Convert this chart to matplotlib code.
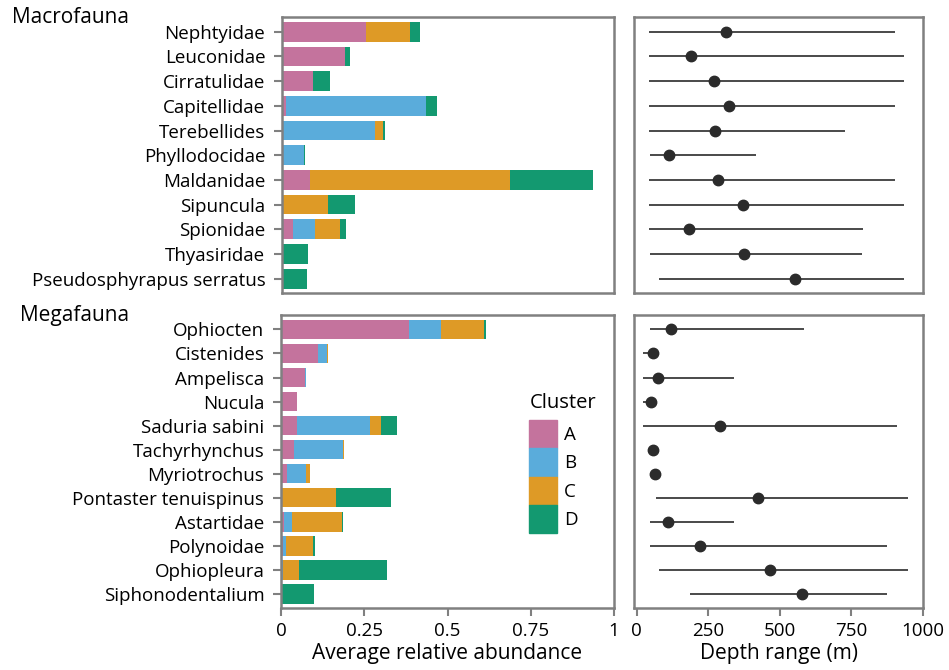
import matplotlib
matplotlib.use("Agg")
import matplotlib.pyplot as plt
import matplotlib.patches as mpatches
import numpy as np

plt.rcParams["font.family"] = ["Open Sans", "DejaVu Sans"]

CLUSTERS = ["A", "B", "C", "D"]
CLUSTER_COLORS = ["#C4739D", "#5AACDB", "#DE9A26", "#139970"]

# Macrofauna taxa (top to bottom) with per-cluster shares
macro_taxa = ["Nephtyidae", "Leuconidae", "Cirratulidae", "Capitellidae", "Terebellides",
              "Phyllodocidae", "Maldanidae", "Sipuncula", "Spionidae", "Thyasiridae",
              "Pseudosphyrapus serratus"]
macro_A = [0.253, 0.189, 0.093, 0.012, 0.000, 0.000, 0.084, 0.000, 0.033, 0.000, 0.000]
macro_B = [0.000, 0.000, 0.000, 0.421, 0.280, 0.066, 0.000, 0.000, 0.066, 0.000, 0.000]
macro_C = [0.132, 0.000, 0.000, 0.000, 0.024, 0.000, 0.602, 0.138, 0.076, 0.000, 0.000]
macro_D = [0.030, 0.016, 0.051, 0.033, 0.006, 0.003, 0.250, 0.082, 0.018, 0.078, 0.075]
macro_depth_min = [44, 44, 44, 44, 44, 47, 44, 44, 44, 47, 76]
macro_depth_max = [903, 934, 934, 903, 726, 416, 903, 934, 789, 788, 934]
macro_depth_mid = [311, 188, 270, 323, 274, 114, 284, 372, 181, 375, 554]

# Megafauna taxa
mega_taxa = ["Ophiocten", "Cistenides", "Ampelisca", "Nucula", "Saduria sabini",
             "Tachyrhynchus", "Myriotrochus", "Pontaster tenuispinus", "Astartidae",
             "Polynoidae", "Ophiopleura", "Siphonodentalium"]
mega_A = [0.383, 0.110, 0.071, 0.049, 0.047, 0.040, 0.017, 0.000, 0.009, 0.005, 0.000, 0.000]
mega_B = [0.097, 0.028, 0.005, 0.000, 0.220, 0.145, 0.058, 0.003, 0.024, 0.010, 0.005, 0.000]
mega_C = [0.129, 0.003, 0.000, 0.000, 0.033, 0.003, 0.011, 0.161, 0.149, 0.080, 0.048, 0.003]
mega_D = [0.006, 0.000, 0.000, 0.000, 0.048, 0.000, 0.000, 0.166, 0.003, 0.006, 0.265, 0.095]
mega_depth_min = [45, 22, 22, 22, 22, 45, 50, 68, 45, 45, 76, 185]
mega_depth_max = [584, 55, 338, 60, 908, 70, 78, 946, 338, 875, 946, 875]
mega_depth_mid = [119, 55, 73, 49, 289, 57, 62, 425, 108, 221, 466, 576]

SPINE = "#808080"
W, H = 949, 670
TICK_FS = 13.5


def px_axes(fig, x0, y0, x1, y1):
    return fig.add_axes([x0 / W, 1 - y1 / H, (x1 - x0) / W, (y1 - y0) / H])


def style(ax):
    for s in ax.spines.values():
        s.set_color(SPINE)
        s.set_linewidth(1.8)
    ax.tick_params(color=SPINE, width=1.5, length=6, pad=6, labelsize=TICK_FS)


def bars(ax, taxa, parts):
    y = np.arange(len(taxa))
    left = np.zeros(len(taxa))
    for vals, col in zip(parts, CLUSTER_COLORS):
        vals = np.array(vals)
        ax.barh(y, vals, left=left, height=0.8, color=col, linewidth=0)
        left += vals
    ax.set_yticks(y)
    ax.set_yticklabels(taxa)
    ax.set_xlim(0, 1)
    ax.set_ylim(len(taxa) - 0.42, -0.6)
    style(ax)


def ranges(ax, n, lo, hi, mid):
    y = np.arange(n)
    ax.hlines(y, lo, hi, color="#2B2B2B", linewidth=1.2)
    ax.plot(mid, y, "o", color="#2B2B2B", markersize=7.5)
    ax.set_xlim(-10, 1000)
    ax.set_ylim(n - 0.42, -0.6)
    ax.set_yticks([])
    style(ax)


fig = plt.figure(figsize=(W / 100, H / 100), dpi=100)

ax_tl = px_axes(fig, 282, 17, 614, 293)
ax_bl = px_axes(fig, 281, 315, 614, 608)
ax_tr = px_axes(fig, 634, 17, 923, 293)
ax_br = px_axes(fig, 634, 315, 923, 608)

bars(ax_tl, macro_taxa, [macro_A, macro_B, macro_C, macro_D])
bars(ax_bl, mega_taxa, [mega_A, mega_B, mega_C, mega_D])
ranges(ax_tr, len(macro_taxa), macro_depth_min, macro_depth_max, macro_depth_mid)
ranges(ax_br, len(mega_taxa), mega_depth_min, mega_depth_max, mega_depth_mid)

for ax in (ax_tl, ax_tr):
    ax.set_xticks([])

ax_bl.set_xticks([0, 0.25, 0.5, 0.75, 1])
ax_bl.set_xticklabels(["0", "0.25", "0.5", "0.75", "1"])
ax_br.set_xticks([0, 250, 500, 750, 1000])
ax_bl.tick_params(axis="x", pad=4)
ax_br.tick_params(axis="x", pad=4)
ax_bl.set_xlabel("Average relative abundance", fontsize=15, labelpad=2)
ax_br.set_xlabel("Depth range (m)", fontsize=15, labelpad=2)

fig.text(12 / W, 1 - 7 / H, "Macrofauna", fontsize=15, va="top", ha="left")
fig.text(20 / W, 1 - 305 / H, "Megafauna", fontsize=15, va="top", ha="left")

# cluster legend: title drawn separately to leave a gap above the swatches
handles = [mpatches.Patch(color=c, label=k) for k, c in zip(CLUSTERS, CLUSTER_COLORS)]
ax_bl.legend(handles=handles, loc="upper left",
             bbox_to_anchor=(0.745, 0.642), frameon=False, fontsize=TICK_FS,
             handlelength=1.5, handleheight=1.95,
             handletextpad=0.35, labelspacing=0, borderaxespad=0, borderpad=0)
ax_bl.text(0.747, 0.700, "Cluster", transform=ax_bl.transAxes,
           fontsize=14.5, ha="left", va="center")

fig.savefig("out.png", dpi=100, facecolor="white")
